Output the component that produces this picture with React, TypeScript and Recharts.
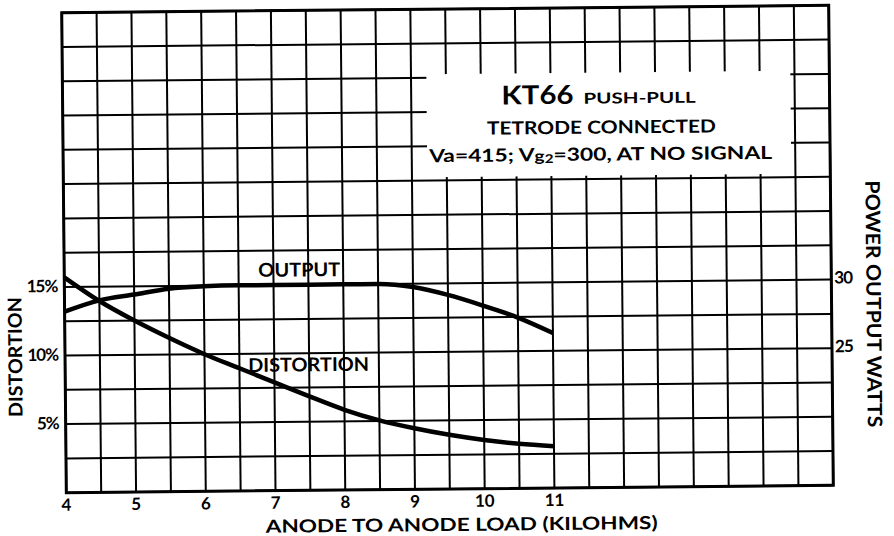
import React from "react";
import {
  LineChart,
  Line,
  XAxis,
  YAxis,
  CartesianGrid,
  ReferenceArea,
} from "recharts";

// anode-to-anode load, kilohms
const loads = [4, 4.5, 5, 5.5, 6, 6.5, 7, 7.5, 8, 8.5, 9, 9.5, 10, 10.5, 11];
// distortion, %
const distortion = [
  15.7, 13.95, 12.5, 11.2, 10.0, 8.95, 7.9, 6.85, 5.85, 5.05, 4.45, 3.95, 3.55,
  3.25, 3.05,
];
// power output, watts
const output = [
  28.2, 29.0, 29.4, 29.8, 29.95, 30, 30, 30, 30, 30, 29.75, 29.15, 28.35, 27.45,
  26.3,
];

const xLabels = [4, 5, 6, 7, 8, 9, 10, 11];
const distLabels = [5, 10, 15];
const wattLabels = [25, 30];

const data = loads.map((load, i) => ({
  load,
  distortion: distortion[i],
  output: output[i],
}));

// grid is every half kilohm and every 2.5 %
const gridX: number[] = [];
for (let v = 4; v <= 15; v += 0.5) gridX.push(v);
const gridY: number[] = [];
for (let v = 0; v <= 35; v += 2.5) gridY.push(v);

const FONT = "Lato, 'Open Sans', sans-serif";

const XTick = (props: any) => {
  const { x, y, payload } = props;
  if (!xLabels.includes(payload.value)) return null;
  return (
    <text
      x={x}
      y={y + 10}
      textAnchor="middle"
      fontFamily={FONT}
      fontWeight={700}
      fontSize={17}
      fill="#000"
    >
      {payload.value}
    </text>
  );
};

const LeftTick = (props: any) => {
  const { x, y, payload } = props;
  if (!distLabels.includes(payload.value)) return null;
  return (
    <text
      x={x + 1}
      y={y + 5}
      textAnchor="end"
      fontFamily={FONT}
      fontWeight={700}
      fontSize={17}
      letterSpacing={-1}
      fill="#000"
    >
      {payload.value}%
    </text>
  );
};

const RightTick = (props: any) => {
  const { x, y, payload } = props;
  if (!wattLabels.includes(payload.value)) return null;
  return (
    <text
      x={x - 5}
      y={y + 4}
      textAnchor="start"
      fontFamily={FONT}
      fontWeight={700}
      fontSize={17}
      letterSpacing={-1}
      fill="#000"
    >
      {payload.value}
    </text>
  );
};

const App = () => {
  return (
    <div
      style={{
        position: "absolute",
        left: 0,
        top: 0,
        width: 894,
        height: 536,
        background: "#fff",
        transform: "rotate(-0.55deg)",
        transformOrigin: "448px 248px",
      }}
    >
      <LineChart
        width={894}
        height={536}
        data={data}
        margin={{ top: 9, right: 0, bottom: 0, left: 0 }}
      >
        <CartesianGrid
          yAxisId="dist"
          stroke="#000"
          strokeWidth={2}
          strokeOpacity={1}
        />
        <XAxis
          dataKey="load"
          type="number"
          domain={[4, 15]}
          ticks={gridX}
          interval={0}
          height={47}
          axisLine={false}
          tickLine={false}
          tick={<XTick />}
        />
        <YAxis
          yAxisId="dist"
          type="number"
          domain={[0, 35]}
          ticks={gridY}
          interval={0}
          width={64}
          axisLine={false}
          tickLine={false}
          tick={<LeftTick />}
        />
        <YAxis
          yAxisId="watts"
          orientation="right"
          type="number"
          domain={[15, 50]}
          ticks={gridY.map((v) => v + 15)}
          interval={0}
          width={63}
          axisLine={false}
          tickLine={false}
          tick={<RightTick />}
        />
        <ReferenceArea
          yAxisId="dist"
          x1={4}
          x2={15}
          y1={0}
          y2={35}
          fill="none"
          stroke="#000"
          strokeWidth={3}
        />
        <Line
          yAxisId="dist"
          dataKey="distortion"
          type="monotone"
          stroke="#000"
          strokeWidth={4.5}
          dot={false}
          isAnimationActive={false}
        />
        <Line
          yAxisId="watts"
          dataKey="output"
          type="monotone"
          stroke="#000"
          strokeWidth={4.5}
          dot={false}
          isAnimationActive={false}
        />
        <g fontFamily={FONT} fill="#000" fontWeight={700}>
          {/* white panel behind the title, hiding the grid */}
          <rect x={428} y={74} width={364} height={103} fill="#fff" />
          <text x={503} y={105} fontSize={26} textLength={72} lengthAdjust="spacingAndGlyphs">
            KT66
          </text>
          <text x={585} y={105} fontSize={15} textLength={112} lengthAdjust="spacingAndGlyphs">
            PUSH-PULL
          </text>
          <text x={488} y={135} fontSize={18} textLength={229} lengthAdjust="spacingAndGlyphs">
            TETRODE CONNECTED
          </text>
          <text x={430} y={162} fontSize={18} textLength={343} lengthAdjust="spacingAndGlyphs">
            Va=415;  V<tspan fontSize={15}>g</tspan><tspan fontSize={12} dy={2}>2</tspan><tspan dy={-2}>=300, AT NO SIGNAL</tspan>
          </text>
          <text x={258} y={275} fontSize={19} textLength={82} lengthAdjust="spacingAndGlyphs">
            OUTPUT
          </text>
          <text x={247} y={370} fontSize={19} textLength={121} lengthAdjust="spacingAndGlyphs">
            DISTORTION
          </text>
          <text x={263} y={531} fontSize={18} textLength={392} lengthAdjust="spacingAndGlyphs">
            ANODE TO ANODE LOAD (KILOHMS)
          </text>
          <text
            x={0}
            y={0}
            fontSize={19}
            textAnchor="middle"
            transform="translate(21 353) rotate(-90)"
            textLength={120}
            lengthAdjust="spacingAndGlyphs"
          >
            DISTORTION
          </text>
          <text
            x={0}
            y={0}
            fontSize={20}
            textAnchor="middle"
            transform="translate(866 308) rotate(90)"
            textLength={247}
            lengthAdjust="spacingAndGlyphs"
          >
            POWER OUTPUT WATTS
          </text>
        </g>
      </LineChart>
    </div>
  );
};

export default App;
